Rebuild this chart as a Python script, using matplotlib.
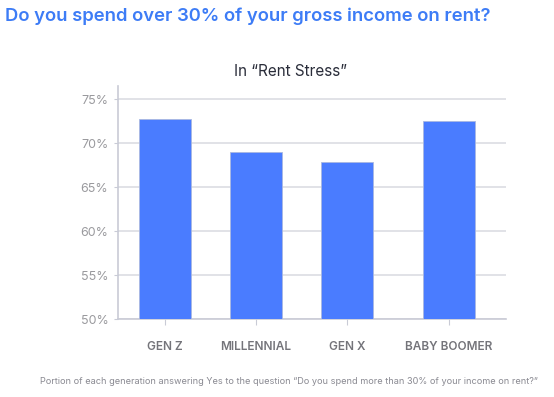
import matplotlib
matplotlib.use("Agg")
import matplotlib.pyplot as plt
from matplotlib.ticker import FuncFormatter

categories = ["GEN Z", "MILLENNIAL", "GEN X", "BABY BOOMER"]
values = [72.7, 69.0, 67.9, 72.5]
positions = [0, 1, 2, 3.12]
yticks = [50, 55, 60, 65, 70, 75]

W, H = 554, 397
fig = plt.figure(figsize=(W/100, H/100), dpi=100)
ax = fig.add_axes([118/W, 1-319/H, (506-118)/W, (319-86)/H])

ax.bar(positions, values, width=0.58, color="#4a7cff", edgecolor="#a9b8e0", linewidth=0.6, zorder=3)
ax.set_ylim(50, 76.5)
ax.set_xlim(-0.516, 3.746)
ax.set_yticks(yticks)
ax.yaxis.set_major_formatter(FuncFormatter(lambda v, p: f"{int(v)}%"))
ax.set_xticks(positions)
ax.set_xticklabels(categories)
ax.grid(axis="y", color="#dcdde3", linewidth=1.2, zorder=0)
for s in ["top", "right"]:
    ax.spines[s].set_visible(False)
for s in ["left", "bottom"]:
    ax.spines[s].set_color("#c9cbd6")
    ax.spines[s].set_linewidth(1.2)
ax.tick_params(axis="y", length=3, color="#c9cbd6", labelcolor="#9a9a9e", labelsize=9, pad=4)
ax.tick_params(axis="x", length=4, color="#c9cbd6", labelcolor="#74747a", labelsize=8.5, pad=12)
for lab in ax.get_yticklabels():
    lab.set_fontfamily("Inter")
for lab in ax.get_xticklabels():
    lab.set_fontfamily("Inter")
    lab.set_fontweight("semibold")

fig.text(5/W, 1-16/H, "Do you spend over 30% of your gross income on rent?", color="#3d7cf6",
         fontsize=13.3, fontweight="semibold", family="Inter", ha="left", va="center")
fig.text(290/W, 1-71/H, "In \u201cRent Stress\u201d", color="#2a2d3a", fontsize=11,
         family="Inter", ha="center", va="center")
fig.text(289/W, 1-381/H,
         "Portion of each generation answering Yes to the question \u201cDo you spend more than 30% of your income on rent?\u201d",
         color="#8a8a92", fontsize=6.6, family="Inter", ha="center", va="center")

fig.savefig("out.png", dpi=100)
